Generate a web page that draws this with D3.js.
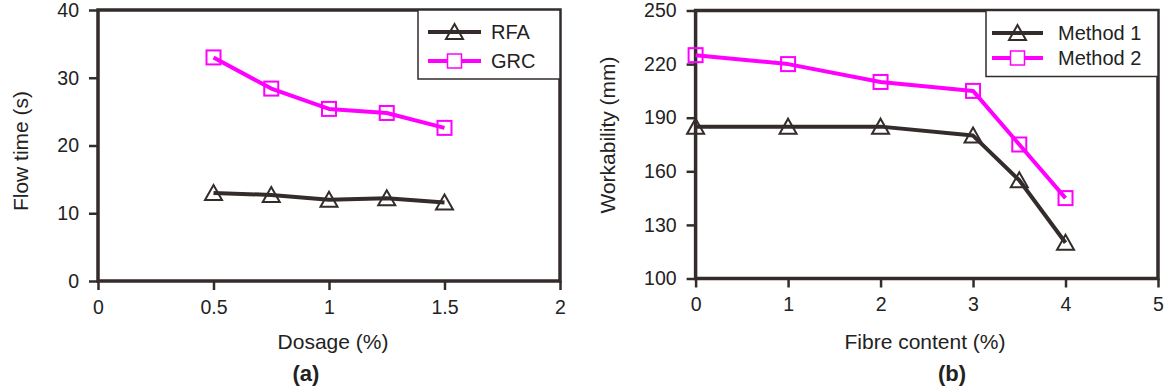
<!DOCTYPE html>
<html>
<meta charset="utf-8">
<title>Flow time and workability</title>
<style>
body {
  margin: 0;
  background: #fff;
  font-family: "Liberation Sans", Arial, sans-serif;
}
.frame {
  fill: none;
  stroke: #332c2b;
  stroke-width: 3.5px;
}
.axis path { display: none; }
.axis line { stroke: #332c2b; stroke-width: 2.5px; }
.axis text { fill: #222; font-size: 19.5px; font-family: "Liberation Sans", Arial, sans-serif; }
.title { fill: #222; font-size: 21px; }
.series { fill: none; stroke-width: 4px; stroke-linejoin: round; }
.marker { fill: none; stroke-width: 2px; }
.legend rect { fill: #fff; stroke: #332c2b; stroke-width: 1.5px; }
.legend text { font-size: 20px; fill: #222; }
</style>
<body>
<div id="chart"></div>
<script src="https://d3js.org/d3.v7.min.js"></script>
<script>

// panel (a)
var dosage = [0.5, 0.75, 1, 1.25, 1.5];
var rfaFlow = [13, 12.7, 12, 12.2, 11.6];
var grcFlow = [33, 28.4, 25.4, 24.8, 22.6];
var dosageTicks = [0, 0.5, 1, 1.5, 2];
var flowTicks = [0, 10, 20, 30, 40];

// panel (b)
var fibre = [0, 1, 2, 3, 3.5, 4];
var method1 = [185, 185, 185, 180, 155, 120];
var method2 = [225, 220, 210, 205, 175, 145];
var fibreTicks = [0, 1, 2, 3, 4, 5];
var workTicks = [100, 130, 160, 190, 220, 250];

var dark = "#332c2b",
  magenta = "#ff00ff";

var svg = d3.select("#chart").append("svg")
  .attr("width", 1164)
  .attr("height", 389);

function marker(g, shape, x, y, color) {
  if (shape == "tri") {
    g.append("path")
      .attr("class", "marker")
      .attr("d", "M" + x + "," + (y - 8) + "L" + (x + 8.5) + "," + (y + 7) + "L" + (x - 8.5) + "," + (y + 7) + "Z")
      .style("stroke", color);
  } else {
    g.append("rect")
      .attr("class", "marker")
      .attr("x", x - 7).attr("y", y - 7)
      .attr("width", 14).attr("height", 14)
      .style("stroke", color);
  }
}

function panel(p) {
  var x = d3.scaleLinear().domain(p.xDomain).range([p.left, p.right]);
  var y = d3.scaleLinear().domain(p.yDomain).range([p.bottom, p.top]);
  var g = svg.append("g");

  g.append("g")
    .attr("class", "axis")
    .attr("transform", "translate(0," + p.bottom + ")")
    .call(d3.axisBottom(x).tickValues(p.xTicks).tickSize(9).tickPadding(10).tickFormat(d3.format("")));

  g.append("g")
    .attr("class", "axis")
    .attr("transform", "translate(" + p.left + ",0)")
    .call(d3.axisLeft(y).tickValues(p.yTicks).tickSize(9).tickPadding(10).tickFormat(d3.format("")));

  g.append("rect")
    .attr("class", "frame")
    .attr("x", p.left).attr("y", p.top)
    .attr("width", p.right - p.left).attr("height", p.bottom - p.top);

  var line = d3.line()
    .x(function(d) { return x(d[0]); })
    .y(function(d) { return y(d[1]); });

  p.series.forEach(function(s) {
    var pts = p.xs.map(function(v, i) { return [v, s.values[i]]; });
    g.append("path")
      .attr("class", "series")
      .attr("d", line(pts))
      .style("stroke", s.color);
    pts.forEach(function(d) {
      marker(g, s.shape, x(d[0]), y(d[1]), s.color);
    });
  });

  // legend
  var lg = g.append("g").attr("class", "legend");
  lg.append("rect")
    .attr("x", p.legend.x).attr("y", p.top)
    .attr("width", p.right - p.legend.x).attr("height", p.legend.h);
  p.series.forEach(function(s, i) {
    var ly = p.legend.rows[i];
    lg.append("line")
      .attr("x1", p.legend.x1).attr("x2", p.legend.x2)
      .attr("y1", ly).attr("y2", ly)
      .style("stroke", s.color).style("stroke-width", 4);
    marker(lg, s.shape, (p.legend.x1 + p.legend.x2) / 2, ly, s.color);
    lg.append("text")
      .attr("x", p.legend.tx).attr("y", ly)
      .attr("dy", "0.36em")
      .text(s.name);
  });

  g.append("text")
    .attr("class", "title")
    .attr("x", p.xTitleX).attr("y", 349)
    .attr("text-anchor", "middle")
    .text(p.xTitle);

  g.append("text")
    .attr("class", "title")
    .attr("transform", "translate(" + p.yTitleX + "," + p.yTitleY + ") rotate(-90)")
    .attr("text-anchor", "middle")
    .text(p.yTitle);

  g.append("text")
    .attr("class", "title")
    .attr("x", p.tagX).attr("y", 381)
    .attr("text-anchor", "middle")
    .style("font-weight", "bold")
    .style("font-size", "22px")
    .text(p.tag);
}

panel({
  left: 98, right: 560, top: 10, bottom: 281,
  xDomain: [0, 2], yDomain: [0, 40],
  xTicks: dosageTicks, yTicks: flowTicks,
  xs: dosage,
  series: [
    { name: "RFA", values: rfaFlow, color: dark, shape: "tri" },
    { name: "GRC", values: grcFlow, color: magenta, shape: "sq" }
  ],
  legend: { x: 418, h: 69, x1: 428, x2: 481, tx: 491, rows: [32, 61] },
  xTitle: "Dosage (%)", xTitleX: 333,
  yTitle: "Flow time (s)", yTitleX: 28, yTitleY: 151,
  tag: "(a)", tagX: 306
});

panel({
  left: 695.6, right: 1158, top: 10.5, bottom: 278.5,
  xDomain: [0, 5], yDomain: [100, 250],
  xTicks: fibreTicks, yTicks: workTicks,
  xs: fibre,
  series: [
    { name: "Method 1", values: method1, color: dark, shape: "tri" },
    { name: "Method 2", values: method2, color: magenta, shape: "sq" }
  ],
  legend: { x: 986, h: 66, x1: 992, x2: 1043, tx: 1058, rows: [33, 58] },
  xTitle: "Fibre content (%)", xTitleX: 925,
  yTitle: "Workability (mm)", yTitleX: 615, yTitleY: 135,
  tag: "(b)", tagX: 952
});

</script>
</body>
</html>
